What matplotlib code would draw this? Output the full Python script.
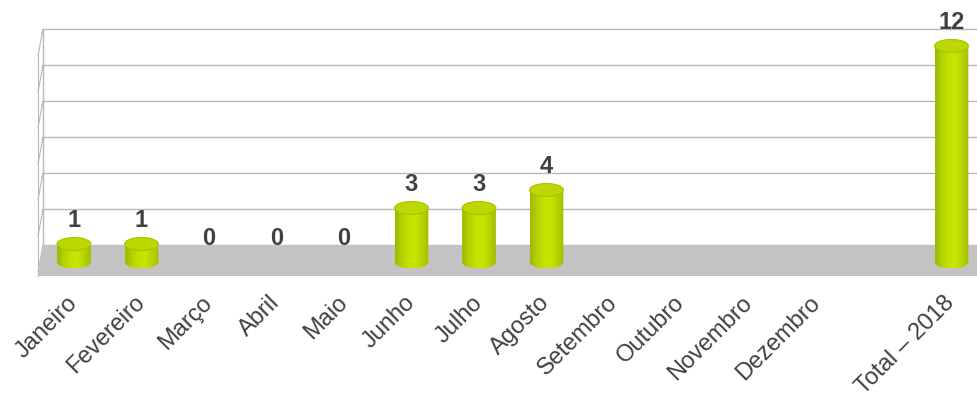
import numpy as np
import matplotlib
matplotlib.use("Agg")
import matplotlib.pyplot as plt
from matplotlib.path import Path
from matplotlib.patches import PathPatch, Ellipse, Polygon
from matplotlib.colors import LinearSegmentedColormap

plt.rcParams['font.family'] = ['Liberation Sans', 'DejaVu Sans']

# monthly counts, with a gap column before the yearly total
months = ['Janeiro', 'Fevereiro', 'Março', 'Abril', 'Maio', 'Junho', 'Julho',
          'Agosto', 'Setembro', 'Outubro', 'Novembro', 'Dezembro', '', 'Total – 2018']
values = [1, 1, 0, 0, 0, 3, 3, 4, None, None, None, None, None, 12]
grid_ticks = [0, 2, 4, 6, 8, 10, 12]

TEXT = '#404040'
GRID = '#b8b8b8'
FLOOR = '#c3c3c3'

fig = plt.figure(figsize=(9.78, 4.01), dpi=100)
ax = fig.add_axes([38 / 978, 125 / 401, 940 / 978, 247 / 401])
ax.set_xlim(-0.533, 13.393)
ax.set_ylim(-0.778, 12.94)
for s in ax.spines.values():
    s.set_visible(False)
ax.set_yticks([])

# depth of the 3d box (back wall sits up and to the right of the bar baseline)
wall_dx, wall_dy = 0.074, 0.944
front_x = -0.533
back_x = front_x + wall_dx
x_right = 13.5

# back wall gridlines + left side wall
for g in grid_ticks:
    y = g + wall_dy
    ax.plot([back_x, x_right], [y, y], color=GRID, lw=1, zorder=1, clip_on=False)
    ax.plot([back_x, front_x], [y, y - 1.5], color=GRID, lw=0.8, zorder=1, clip_on=False)
ax.plot([back_x, back_x], [wall_dy, 12 + wall_dy], color=GRID, lw=1, zorder=1)
ax.plot([front_x, front_x], [-0.778, 12 + wall_dy - 1.5], color=GRID, lw=0.8, zorder=1, clip_on=False)

# floor
floor = Polygon([[front_x, -0.778], [back_x, wall_dy], [x_right, wall_dy], [x_right, -0.778]],
                closed=True, facecolor=FLOOR, edgecolor='none', zorder=2, clip_on=False)
ax.add_patch(floor)

# cylinder bars
cyl_cmap = LinearSegmentedColormap.from_list(
    'cyl', ['#9cb800', '#b4d200', '#c4e200', '#c8e600', '#b8d400', '#a2be00'])
bw = 0.5
eh = 0.36
t = np.linspace(np.pi, 2 * np.pi, 40)
for i, v in enumerate(values):
    if v is None:
        continue
    if v > 0:
        xl, xr = i - bw / 2, i + bw / 2
        arc = np.column_stack([i + bw / 2 * np.cos(t), eh * np.sin(t)])
        verts = np.vstack([[[xl, v]], [[xl, 0]], arc, [[xr, 0]], [[xr, v]], [[xl, v]]])
        body = PathPatch(Path(verts), facecolor='none', edgecolor='none', zorder=3)
        ax.add_patch(body)
        grad = np.linspace(0, 1, 64).reshape(1, -1)
        im = ax.imshow(grad, cmap=cyl_cmap, aspect='auto', extent=[xl, xr, -eh, v],
                       zorder=3, interpolation='bilinear')
        im.set_clip_path(body)
        ax.add_patch(Ellipse((i, v), bw, 2 * eh, facecolor='#bcd800',
                             edgecolor='#a6c200', lw=0.8, zorder=4))
    ax.annotate(str(v), xy=(i, v), xytext=(0, 17), textcoords='offset pixels',
                ha='center', va='baseline', fontsize=17, fontweight='bold',
                color=TEXT, zorder=5, annotation_clip=False)

ax.set_xlim(-0.533, 13.393)
ax.set_ylim(-0.778, 12.94)
ax.set_xticks(range(len(months)))
ax.set_xticklabels(months, rotation=45, ha='right', va='center',
                   rotation_mode='anchor', fontsize=17, color=TEXT)
ax.tick_params(axis='x', length=0, pad=17)

plt.savefig('out.png', dpi=100)
